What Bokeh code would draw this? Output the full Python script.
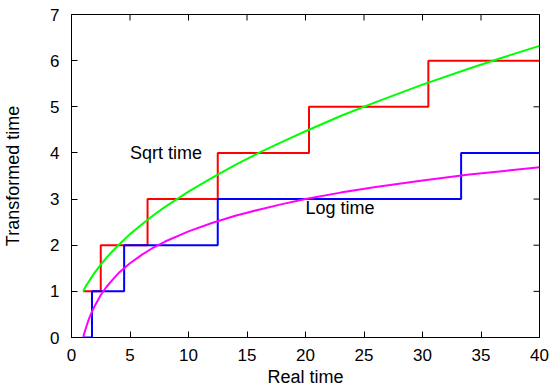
from bokeh.plotting import figure
from bokeh.models import Range1d, FixedTicker, Label
from bokeh.embed import file_html
from bokeh.resources import INLINE

# Data
curve_x = [1, 1.1, 1.2, 1.3, 1.5, 1.75, 2, 2.5, 3, 3.5, 4, 5, 6, 7, 8, 10, 12, 14, 16, 18, 20, 23, 26, 30, 34, 37, 40]
sqrt_y = [1.0, 1.05, 1.10, 1.14, 1.22, 1.32, 1.41, 1.58, 1.73, 1.87, 2.0, 2.24, 2.45, 2.65, 2.83, 3.16, 3.46, 3.74, 4.0, 4.24, 4.47, 4.80, 5.10, 5.48, 5.83, 6.08, 6.32]
log_y = [0.0, 0.10, 0.18, 0.26, 0.41, 0.56, 0.69, 0.92, 1.10, 1.25, 1.39, 1.61, 1.79, 1.95, 2.08, 2.30, 2.48, 2.64, 2.77, 2.89, 3.00, 3.14, 3.26, 3.40, 3.53, 3.61, 3.69]

sqrt_step_x = [1, 2.5, 6.5, 12.5, 20.3, 30.5, 40]
sqrt_step_y = [1, 2, 3, 4, 5, 6, 6]
log_step_x = [1, 1.75, 4.5, 12.5, 33.3, 40]
log_step_y = [0, 1, 2, 3, 4, 4]

x_ticks = [0, 5, 10, 15, 20, 25, 30, 35, 40]
y_ticks = [0, 1, 2, 3, 4, 5, 6, 7]

FONT = "Liberation Sans"
TICK_FS = "17px"
LABEL_FS = "18px"

XMAX = x_ticks[-1]
YMAX = y_ticks[-1]

p = figure(width=553, height=391, output_backend="svg", toolbar_location=None,
           x_range=Range1d(0, XMAX), y_range=Range1d(0, YMAX),
           min_border_left=71, min_border_right=14, min_border_top=14, min_border_bottom=54)
p.xgrid.visible = False
p.ygrid.visible = False
p.outline_line_color = "black"
p.outline_line_width = 1
p.background_fill_color = "white"
p.border_fill_color = "white"

for ax, ticks in ((p.xaxis[0], x_ticks), (p.yaxis[0], y_ticks)):
    ax.ticker = FixedTicker(ticks=ticks)
    ax.major_tick_in = 6
    ax.major_tick_out = 0
    ax.minor_tick_in = 0
    ax.minor_tick_out = 0
    ax.axis_line_color = "black"
    ax.major_tick_line_color = "black"
    ax.major_label_text_font = FONT
    ax.major_label_text_font_size = TICK_FS
    ax.major_label_text_color = "black"
    ax.axis_label_text_font = FONT
    ax.axis_label_text_font_size = LABEL_FS
    ax.axis_label_text_font_style = "normal"
    ax.axis_label_text_color = "black"

p.xaxis[0].axis_label = "Real time"
p.yaxis[0].axis_label = "Transformed time"
p.xaxis[0].major_label_standoff = 11
p.xaxis[0].axis_label_standoff = 3
p.yaxis[0].major_label_standoff = 12
p.yaxis[0].axis_label_standoff = 24

# Mirror ticks on the top and right edges of the frame (inward, ~6px)
tick_dx = XMAX * 6 / 468
tick_dy = YMAX * 6 / 323
p.segment(x0=x_ticks, y0=[YMAX] * len(x_ticks), x1=x_ticks, y1=[YMAX - tick_dy] * len(x_ticks),
          line_color="black", line_width=1)
p.segment(x0=[XMAX] * len(y_ticks), y0=y_ticks, x1=[XMAX - tick_dx] * len(y_ticks), y1=y_ticks,
          line_color="black", line_width=1)

p.step(sqrt_step_x, sqrt_step_y, mode="after", line_color="#ff0000", line_width=2)
p.line(curve_x, sqrt_y, line_color="#00ff00", line_width=2)
p.step(log_step_x, log_step_y, mode="after", line_color="#0000ff", line_width=2)
p.line(curve_x, log_y, line_color="#ff00ff", line_width=2)

p.add_layout(Label(x=5, y=4, text="Sqrt time", text_font=FONT, text_font_size=LABEL_FS,
                   text_baseline="middle", text_align="left", text_color="black"))
p.add_layout(Label(x=20, y=2.8, text="Log time", text_font=FONT, text_font_size=LABEL_FS,
                   text_baseline="middle", text_align="left", text_color="black"))

open("out.html", "w").write(file_html(p, INLINE))
